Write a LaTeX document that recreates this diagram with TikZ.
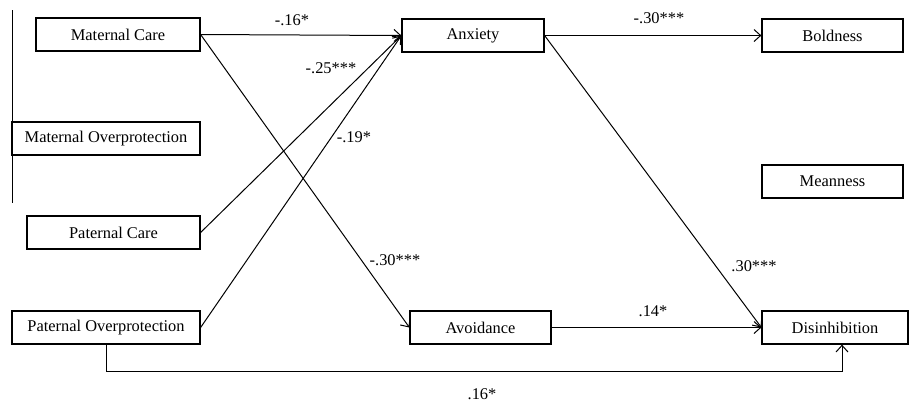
\documentclass[tikz,border=0pt]{standalone}
\usepackage{fontspec}
\setmainfont{Liberation Serif}
\usetikzlibrary{arrows.meta}
\tikzset{
    var/.style={
        draw,
        line width=0.9pt,
        minimum height=24.75pt,
        inner sep=2pt,
        align=center
    },
    path/.style={-{Straight Barb[length=5pt,width=9pt]}, line width=0.75pt},
    coef/.style={inner sep=1pt},
    every node/.style={font=\fontsize{12.3}{14}\selectfont}
}
\begin{document}
\begin{tikzpicture}[x=0.75pt,y=-0.75pt]
\useasboundingbox (0,0) rectangle (909,405);
% parenting
\node[var, minimum width=123pt] (mcare) at (118,34.5) {Maternal Care};
\node[var, minimum width=141pt] (mover) at (106,138.5) {Maternal Overprotection};
\node[var, minimum width=129.75pt] (pcare) at (113.5,232.5) {Paternal Care};
\node[var, minimum width=141pt] (pover) at (106,327.5) {Paternal Overprotection};
\draw[line width=0.75pt] (12,10) -- (12,203);

% attachment
\node[var, minimum width=106.5pt] (anx) at (473,35.5) {Anxiety};
\node[var, minimum width=105.75pt] (avoid) at (480.5,327.5) {Avoidance};

% psychopathy
\node[var, minimum width=105.75pt] (bold) at (832.5,35.5) {Boldness};
\node[var, minimum width=105.75pt] (mean) at (832.5,181.5) {Meanness};
\node[var, minimum width=109.5pt] (dis) at (835,327.5) {Disinhibition};

\draw[path] (mcare.east) -- (anx.west);
\draw[path] (pcare.east) -- (anx.west);
\draw[path] (pover.east) -- (anx.west);
\draw[path] (mcare.east) -- (avoid.west);
\draw[path] (anx.east) -- (bold.west);
\draw[path] (anx.east) -- (dis.west);
\draw[path] (avoid.east) -- (dis.west);
\coordinate (low) at (0,371);
\draw[path] (pover.south) |- ([xshift=5.25pt]dis.south |- low) -- ([xshift=5.25pt]dis.south);

\node[coef] at (292,20) {-.16*};
\node[coef] at (331,68) {-.25***};
\node[coef] at (354,137) {-.19*};
\node[coef] at (395,260) {-.30***};
\node[coef] at (659,18) {-.30***};
\node[coef] at (754,266) {.30***};
\node[coef] at (653,311) {.14*};
\node[coef] at (482,394) {.16*};
\end{tikzpicture}
\end{document}
